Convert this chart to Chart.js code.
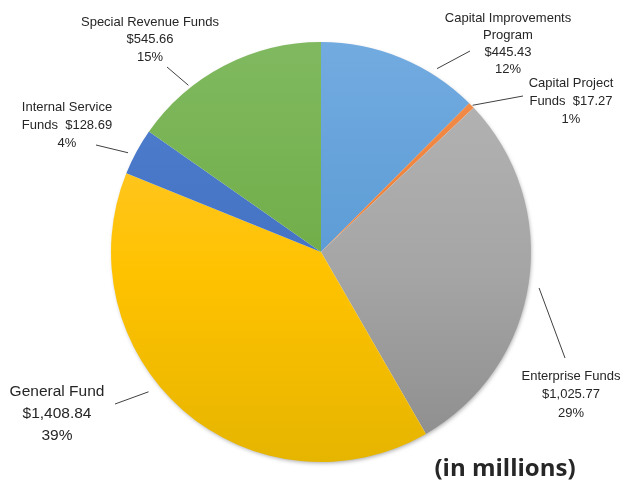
<!DOCTYPE html>
<html>
<head>
    <title>Funds Pie</title>
    <script src="https://cdn.jsdelivr.net/npm/chart.js@4.4.0/dist/chart.umd.min.js"></script>
    <style>
        body { margin: 0; background: #fff; }
        .container { width: 633px; height: 483px; position: relative; }
    </style>
</head>
<body>
    <div class="container">
        <canvas id="fundsChart"></canvas>
    </div>

    <script>
        // Data (millions of dollars)
        const categories = ['Capital Improvements Program', 'Capital Project Funds', 'Enterprise Funds',
                            'General Fund', 'Internal Service Funds', 'Special Revenue Funds'];
        const amounts = [445.43, 17.27, 1025.77, 1408.84, 128.69, 545.66];
        const percentLabels = ['12%', '1%', '29%', '39%', '4%', '15%'];

        // gradient colours per slice: top, middle, bottom
        const sliceColors = [
            ['#72abe0', '#5b9bd5', '#4a8bca'],
            ['#f28f50', '#ed7d31', '#e07022'],
            ['#b6b6b6', '#a5a5a5', '#8c8c8c'],
            ['#ffc940', '#ffc200', '#e6b500'],
            ['#5080cf', '#4472c4', '#3663b9'],
            ['#80b960', '#70ad47', '#63a03a']
        ];

        // label layout: text lines, text centre, font size, leader line
        // t = where along the slice the leader starts, gap = distance off the rim
        const labelLayout = [
            { lines: ['Capital Improvements', 'Program', '{v}', '{p}'], x: 508, y: 18, step: 17.3, size: 13, t: 0.72, gap: 7, end: [470, 51] },
            { lines: ['Capital Project', 'Funds  {v}', '{p}'], x: 571, y: 83, step: 18, size: 13, t: 0.6, gap: 1, end: [523, 96] },
            { lines: ['Enterprise Funds', '{v}', '{p}'], x: 571, y: 376, step: 18.5, size: 13, t: 0.51, gap: 11, end: [565, 358] },
            { lines: ['General Fund', '{v}', '{p}'], x: 57, y: 392, step: 22, size: 15.5, t: 0.57, gap: 12, end: [115, 404] },
            { lines: ['Internal Service', 'Funds  {v}', '{p}'], x: 67, y: 107, step: 18, size: 13, t: 0.4, gap: 7, end: [96, 145] },
            { lines: ['Special Revenue Funds', '{v}', '{p}'], x: 150, y: 22, step: 17.5, size: 13, t: 0.3, gap: 3, end: [167, 67] }
        ];

        const fontFamily = "'Liberation Sans', Arial, sans-serif";

        function money(v) {
            return '$' + v.toLocaleString('en-US', { minimumFractionDigits: 2, maximumFractionDigits: 2 });
        }

        // soft drop shadow under the whole pie
        const shadowPlugin = {
            id: 'pieShadow',
            beforeDatasetsDraw(chart) {
                const arc = chart.getDatasetMeta(0).data[0];
                if (!arc) return;
                const ctx = chart.ctx;
                ctx.save();
                ctx.shadowColor = 'rgba(0,0,0,0.35)';
                ctx.shadowBlur = 4;
                ctx.shadowOffsetX = 1;
                ctx.shadowOffsetY = 2;
                ctx.fillStyle = '#fff';
                ctx.beginPath();
                ctx.arc(arc.x, arc.y, arc.outerRadius - 1, 0, Math.PI * 2);
                ctx.fill();
                ctx.restore();
            }
        };

        // outside labels with leader lines
        const labelPlugin = {
            id: 'sliceLabels',
            afterDatasetsDraw(chart) {
                const ctx = chart.ctx;
                const arcs = chart.getDatasetMeta(0).data;
                ctx.save();
                arcs.forEach((arc, i) => {
                    const L = labelLayout[i];
                    const a = arc.startAngle + (arc.endAngle - arc.startAngle) * L.t;
                    const r = arc.outerRadius + L.gap;
                    ctx.strokeStyle = '#404040';
                    ctx.lineWidth = 1;
                    ctx.beginPath();
                    ctx.moveTo(arc.x + Math.cos(a) * r, arc.y + Math.sin(a) * r);
                    ctx.lineTo(L.end[0], L.end[1]);
                    ctx.stroke();

                    ctx.fillStyle = '#262626';
                    ctx.font = L.size + 'px ' + fontFamily;
                    ctx.textAlign = 'center';
                    ctx.textBaseline = 'middle';
                    L.lines.forEach((s, k) => {
                        const txt = s.replace('{v}', money(amounts[i])).replace('{p}', percentLabels[i]);
                        ctx.fillText(txt, L.x, L.y + k * L.step);
                    });
                });
                ctx.fillStyle = '#262626';
                ctx.font = "bold 24px 'Open Sans', sans-serif";
                ctx.textAlign = 'center';
                ctx.textBaseline = 'middle';
                ctx.fillText('(in millions)', 505, 469);
                ctx.restore();
            }
        };

        const ctx = document.getElementById('fundsChart').getContext('2d');
        const chart = new Chart(ctx, {
            type: 'pie',
            data: {
                labels: categories,
                datasets: [{
                    data: amounts,
                    borderWidth: 0,
                    backgroundColor: (c) => {
                        const area = c.chart.chartArea;
                        const cols = sliceColors[c.dataIndex];
                        if (!area) return cols[1];
                        const g = c.chart.ctx.createLinearGradient(0, area.top, 0, area.bottom);
                        g.addColorStop(0, cols[0]);
                        g.addColorStop(0.55, cols[1]);
                        g.addColorStop(1, cols[2]);
                        return g;
                    }
                }]
            },
            options: {
                responsive: true,
                maintainAspectRatio: false,
                animation: false,
                layout: { padding: { left: 111, right: 102, top: 42, bottom: 21 } },
                plugins: {
                    legend: { display: false },
                    tooltip: { enabled: false }
                }
            },
            plugins: [shadowPlugin, labelPlugin]
        });
    </script>
</body>
</html>
